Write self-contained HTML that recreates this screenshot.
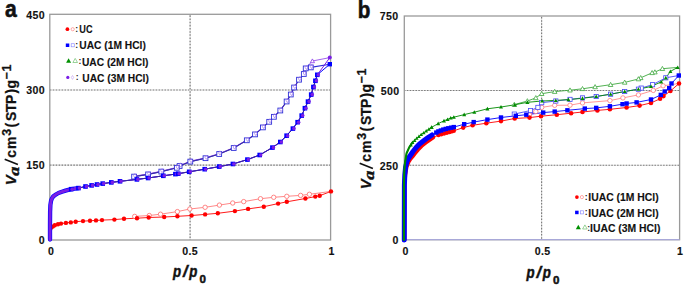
<!DOCTYPE html><html><head><meta charset="utf-8"><style>html,body{margin:0;padding:0;background:#fff;overflow:hidden}svg{display:block}</style></head><body>
<svg width="685" height="285" viewBox="0 0 685 285">
<rect width="685" height="285" fill="#fff"/>
<line x1="49.8" y1="90.0" x2="330.6" y2="90.0" stroke="#e2e2e2" stroke-width="1.1"/>
<line x1="49.8" y1="90.0" x2="330.6" y2="90.0" stroke="#7c7c7c" stroke-width="1.15" stroke-dasharray="1.55,1.39" stroke-dashoffset="0.0"/>
<line x1="49.8" y1="165.1" x2="330.6" y2="165.1" stroke="#e2e2e2" stroke-width="1.1"/>
<line x1="49.8" y1="165.1" x2="330.6" y2="165.1" stroke="#7c7c7c" stroke-width="1.15" stroke-dasharray="1.55,1.39" stroke-dashoffset="0.0"/>
<line x1="190.1" y1="14.3" x2="190.1" y2="240.0" stroke="#e2e2e2" stroke-width="1.1"/>
<line x1="190.1" y1="14.3" x2="190.1" y2="240.0" stroke="#7c7c7c" stroke-width="1.15" stroke-dasharray="1.55,1.61" stroke-dashoffset="2.11"/>
<line x1="404.3" y1="90.5" x2="679.6" y2="90.5" stroke="#e2e2e2" stroke-width="1.1"/>
<line x1="404.3" y1="90.5" x2="679.6" y2="90.5" stroke="#7c7c7c" stroke-width="1.15" stroke-dasharray="1.55,1.33" stroke-dashoffset="0.39"/>
<line x1="404.3" y1="165.2" x2="679.6" y2="165.2" stroke="#e2e2e2" stroke-width="1.1"/>
<line x1="404.3" y1="165.2" x2="679.6" y2="165.2" stroke="#7c7c7c" stroke-width="1.15" stroke-dasharray="1.55,1.33" stroke-dashoffset="0.39"/>
<line x1="541.6" y1="16.0" x2="541.6" y2="239.7" stroke="#e2e2e2" stroke-width="1.1"/>
<line x1="541.6" y1="16.0" x2="541.6" y2="239.7" stroke="#7c7c7c" stroke-width="1.15" stroke-dasharray="1.55,1.55" stroke-dashoffset="2.05"/>
<rect x="49.8" y="14.3" width="280.8" height="225.7" fill="none" stroke="#9a9a9a" stroke-width="1.3"/>
<rect x="404.3" y="16.0" width="275.3" height="223.7" fill="none" stroke="#9a9a9a" stroke-width="1.3"/>
<line x1="404.3" y1="239.7" x2="679.6" y2="239.7" stroke="#a8a8d8" stroke-width="1.3"/>
<polyline points="49.9,239.5 50.1,234.0 50.6,230.0 51.5,228.0 52.7,226.6 54.8,225.3 58.0,224.3 61.0,223.6 65.9,222.9 70.8,222.4 75.7,221.7 83.0,221.1 90.0,220.8 96.0,220.4 102.0,220.1 114.4,219.6 124.0,218.8 137.0,218.2 148.7,217.5 164.2,217.0 177.4,216.3 191.6,215.5 205.1,214.4 217.8,213.3 234.9,211.1 248.1,208.9 263.8,206.7 278.1,203.6 286.8,201.8 305.4,198.5 315.3,196.6 319.7,195.7 331.0,191.4" fill="none" stroke="#ff0000" stroke-width="0.9" stroke-opacity="1" stroke-linejoin="round"/>
<polyline points="331.0,191.4 309.4,194.3 300.6,195.4 286.8,196.3 273.7,197.3 260.5,198.7 243.7,201.6 232.7,203.0 219.4,205.1 205.1,207.3 189.8,209.0 177.4,211.6 160.5,214.2 149.3,215.5 134.7,216.4" fill="none" stroke="#ff6a6a" stroke-width="0.8" stroke-opacity="1" stroke-linejoin="round"/>
<polyline points="49.9,239.5 50.1,234.0 50.6,230.0 51.5,228.0 52.7,226.6 54.8,225.3" fill="none" stroke="#ff0000" stroke-width="3.0" stroke-opacity="1" stroke-linejoin="round" stroke-linecap="round"/>
<circle cx="309.4" cy="194.3" r="2.2" fill="#fff" stroke="#ff6a6a" stroke-width="0.8"/>
<circle cx="300.6" cy="195.4" r="2.2" fill="#fff" stroke="#ff6a6a" stroke-width="0.8"/>
<circle cx="286.8" cy="196.3" r="2.2" fill="#fff" stroke="#ff6a6a" stroke-width="0.8"/>
<circle cx="273.7" cy="197.3" r="2.2" fill="#fff" stroke="#ff6a6a" stroke-width="0.8"/>
<circle cx="260.5" cy="198.7" r="2.2" fill="#fff" stroke="#ff6a6a" stroke-width="0.8"/>
<circle cx="243.7" cy="201.6" r="2.2" fill="#fff" stroke="#ff6a6a" stroke-width="0.8"/>
<circle cx="232.7" cy="203.0" r="2.2" fill="#fff" stroke="#ff6a6a" stroke-width="0.8"/>
<circle cx="219.4" cy="205.1" r="2.2" fill="#fff" stroke="#ff6a6a" stroke-width="0.8"/>
<circle cx="205.1" cy="207.3" r="2.2" fill="#fff" stroke="#ff6a6a" stroke-width="0.8"/>
<circle cx="189.8" cy="209.0" r="2.2" fill="#fff" stroke="#ff6a6a" stroke-width="0.8"/>
<circle cx="177.4" cy="211.6" r="2.2" fill="#fff" stroke="#ff6a6a" stroke-width="0.8"/>
<circle cx="160.5" cy="214.2" r="2.2" fill="#fff" stroke="#ff6a6a" stroke-width="0.8"/>
<circle cx="149.3" cy="215.5" r="2.2" fill="#fff" stroke="#ff6a6a" stroke-width="0.8"/>
<circle cx="134.7" cy="216.4" r="2.2" fill="#fff" stroke="#ff6a6a" stroke-width="0.8"/>
<circle cx="52.7" cy="226.6" r="2.2" fill="#ff0000"/>
<circle cx="54.8" cy="225.3" r="2.2" fill="#ff0000"/>
<circle cx="58.0" cy="224.3" r="2.2" fill="#ff0000"/>
<circle cx="61.0" cy="223.6" r="2.2" fill="#ff0000"/>
<circle cx="65.9" cy="222.9" r="2.2" fill="#ff0000"/>
<circle cx="70.8" cy="222.4" r="2.2" fill="#ff0000"/>
<circle cx="75.7" cy="221.7" r="2.2" fill="#ff0000"/>
<circle cx="83.0" cy="221.1" r="2.2" fill="#ff0000"/>
<circle cx="90.0" cy="220.8" r="2.2" fill="#ff0000"/>
<circle cx="96.0" cy="220.4" r="2.2" fill="#ff0000"/>
<circle cx="102.0" cy="220.1" r="2.2" fill="#ff0000"/>
<circle cx="114.4" cy="219.6" r="2.2" fill="#ff0000"/>
<circle cx="124.0" cy="218.8" r="2.2" fill="#ff0000"/>
<circle cx="137.0" cy="218.2" r="2.2" fill="#ff0000"/>
<circle cx="148.7" cy="217.5" r="2.2" fill="#ff0000"/>
<circle cx="164.2" cy="217.0" r="2.2" fill="#ff0000"/>
<circle cx="177.4" cy="216.3" r="2.2" fill="#ff0000"/>
<circle cx="191.6" cy="215.5" r="2.2" fill="#ff0000"/>
<circle cx="205.1" cy="214.4" r="2.2" fill="#ff0000"/>
<circle cx="217.8" cy="213.3" r="2.2" fill="#ff0000"/>
<circle cx="234.9" cy="211.1" r="2.2" fill="#ff0000"/>
<circle cx="248.1" cy="208.9" r="2.2" fill="#ff0000"/>
<circle cx="263.8" cy="206.7" r="2.2" fill="#ff0000"/>
<circle cx="278.1" cy="203.6" r="2.2" fill="#ff0000"/>
<circle cx="286.8" cy="201.8" r="2.2" fill="#ff0000"/>
<circle cx="305.4" cy="198.5" r="2.2" fill="#ff0000"/>
<circle cx="315.3" cy="196.6" r="2.2" fill="#ff0000"/>
<circle cx="319.7" cy="195.7" r="2.2" fill="#ff0000"/>
<circle cx="331.0" cy="191.4" r="2.2" fill="#ff0000"/>
<polyline points="329.8,64.2 310.8,67.4 305.7,68.4 303.8,74.0 299.0,79.7 294.1,87.5 290.8,94.5 286.6,101.5 280.3,110.5 273.9,116.8 269.2,121.8 262.9,127.4 255.0,134.4 246.8,140.3 233.7,148.0 219.2,154.0 205.5,158.2 190.3,161.6 179.6,166.0 176.8,167.8 161.3,171.6 148.1,174.4 134.1,176.6" fill="none" stroke="#2e2ed8" stroke-width="1.1" stroke-opacity="1" stroke-linejoin="round"/>
<polyline points="329.8,57.6 312.4,61.0 306.0,67.9 304.1,73.5 299.3,79.2 294.4,87.0 291.1,94.0 286.9,101.0 280.6,110.0 274.2,116.3 269.5,121.3 263.2,126.9 255.3,133.9 247.1,139.8 234.0,147.5 219.5,153.5 205.8,157.7 190.6,161.1 179.9,165.5 177.1,167.3 161.6,171.1 148.4,173.9 134.4,176.1" fill="none" stroke="#8a3ae8" stroke-width="0.8" stroke-opacity="1" stroke-linejoin="round"/>
<polyline points="310.8,67.4 305.7,68.4 303.8,74.0 299.0,79.7 294.1,87.5 290.8,94.5 286.6,101.5 280.3,110.5 273.9,116.8 269.2,121.8 262.9,127.4 255.0,134.4 246.8,140.3 233.7,148.0 219.2,154.0 205.5,158.2 190.3,161.6 179.6,166.0 176.8,167.8 161.3,171.6 148.1,174.4 134.1,176.6" fill="none" stroke="#35289a" stroke-width="0.9" stroke-opacity="1" stroke-linejoin="round"/>
<rect x="308.4" y="65.0" width="4.8" height="4.8" fill="#fff" stroke="#2e2ed8" stroke-width="0.9"/>
<polygon points="311.6,64.2 313.0,66.4 311.6,68.6 310.2,66.4" fill="none" stroke="#a078ee" stroke-width="0.7"/>
<rect x="303.3" y="66.0" width="4.8" height="4.8" fill="#fff" stroke="#2e2ed8" stroke-width="0.9"/>
<polygon points="306.5,65.2 307.9,67.4 306.5,69.6 305.1,67.4" fill="none" stroke="#a078ee" stroke-width="0.7"/>
<rect x="301.4" y="71.6" width="4.8" height="4.8" fill="#fff" stroke="#2e2ed8" stroke-width="0.9"/>
<polygon points="304.6,70.8 306.0,73.0 304.6,75.2 303.2,73.0" fill="none" stroke="#a078ee" stroke-width="0.7"/>
<rect x="296.6" y="77.3" width="4.8" height="4.8" fill="#fff" stroke="#2e2ed8" stroke-width="0.9"/>
<polygon points="299.8,76.5 301.2,78.7 299.8,80.9 298.4,78.7" fill="none" stroke="#a078ee" stroke-width="0.7"/>
<rect x="291.7" y="85.1" width="4.8" height="4.8" fill="#fff" stroke="#2e2ed8" stroke-width="0.9"/>
<polygon points="294.9,84.3 296.3,86.5 294.9,88.7 293.5,86.5" fill="none" stroke="#a078ee" stroke-width="0.7"/>
<rect x="288.4" y="92.1" width="4.8" height="4.8" fill="#fff" stroke="#2e2ed8" stroke-width="0.9"/>
<polygon points="291.6,91.3 293.0,93.5 291.6,95.7 290.2,93.5" fill="none" stroke="#a078ee" stroke-width="0.7"/>
<rect x="284.2" y="99.1" width="4.8" height="4.8" fill="#fff" stroke="#2e2ed8" stroke-width="0.9"/>
<polygon points="287.4,98.3 288.8,100.5 287.4,102.7 286.0,100.5" fill="none" stroke="#a078ee" stroke-width="0.7"/>
<rect x="277.9" y="108.1" width="4.8" height="4.8" fill="#fff" stroke="#2e2ed8" stroke-width="0.9"/>
<polygon points="281.1,107.3 282.5,109.5 281.1,111.7 279.7,109.5" fill="none" stroke="#a078ee" stroke-width="0.7"/>
<rect x="271.5" y="114.4" width="4.8" height="4.8" fill="#fff" stroke="#2e2ed8" stroke-width="0.9"/>
<polygon points="274.7,113.6 276.1,115.8 274.7,118.0 273.3,115.8" fill="none" stroke="#a078ee" stroke-width="0.7"/>
<rect x="266.8" y="119.4" width="4.8" height="4.8" fill="#fff" stroke="#2e2ed8" stroke-width="0.9"/>
<polygon points="270.0,118.6 271.4,120.8 270.0,123.0 268.6,120.8" fill="none" stroke="#a078ee" stroke-width="0.7"/>
<rect x="260.5" y="125.0" width="4.8" height="4.8" fill="#fff" stroke="#2e2ed8" stroke-width="0.9"/>
<polygon points="263.7,124.2 265.1,126.4 263.7,128.6 262.3,126.4" fill="none" stroke="#a078ee" stroke-width="0.7"/>
<rect x="252.6" y="132.0" width="4.8" height="4.8" fill="#fff" stroke="#2e2ed8" stroke-width="0.9"/>
<polygon points="255.8,131.2 257.2,133.4 255.8,135.6 254.4,133.4" fill="none" stroke="#a078ee" stroke-width="0.7"/>
<rect x="244.4" y="137.9" width="4.8" height="4.8" fill="#fff" stroke="#2e2ed8" stroke-width="0.9"/>
<polygon points="247.6,137.1 249.0,139.3 247.6,141.5 246.2,139.3" fill="none" stroke="#a078ee" stroke-width="0.7"/>
<rect x="231.3" y="145.6" width="4.8" height="4.8" fill="#fff" stroke="#2e2ed8" stroke-width="0.9"/>
<polygon points="234.5,144.8 235.9,147.0 234.5,149.2 233.1,147.0" fill="none" stroke="#a078ee" stroke-width="0.7"/>
<rect x="216.8" y="151.6" width="4.8" height="4.8" fill="#fff" stroke="#2e2ed8" stroke-width="0.9"/>
<polygon points="220.0,150.8 221.4,153.0 220.0,155.2 218.6,153.0" fill="none" stroke="#a078ee" stroke-width="0.7"/>
<rect x="203.1" y="155.8" width="4.8" height="4.8" fill="#fff" stroke="#2e2ed8" stroke-width="0.9"/>
<polygon points="206.3,155.0 207.7,157.2 206.3,159.4 204.9,157.2" fill="none" stroke="#a078ee" stroke-width="0.7"/>
<rect x="187.9" y="159.2" width="4.8" height="4.8" fill="#fff" stroke="#2e2ed8" stroke-width="0.9"/>
<polygon points="191.1,158.4 192.5,160.6 191.1,162.8 189.7,160.6" fill="none" stroke="#a078ee" stroke-width="0.7"/>
<rect x="177.2" y="163.6" width="4.8" height="4.8" fill="#fff" stroke="#2e2ed8" stroke-width="0.9"/>
<polygon points="180.4,162.8 181.8,165.0 180.4,167.2 179.0,165.0" fill="none" stroke="#a078ee" stroke-width="0.7"/>
<rect x="174.4" y="165.4" width="4.8" height="4.8" fill="#fff" stroke="#2e2ed8" stroke-width="0.9"/>
<polygon points="177.6,164.6 179.0,166.8 177.6,169.0 176.2,166.8" fill="none" stroke="#a078ee" stroke-width="0.7"/>
<rect x="158.9" y="169.2" width="4.8" height="4.8" fill="#fff" stroke="#2e2ed8" stroke-width="0.9"/>
<polygon points="162.1,168.4 163.5,170.6 162.1,172.8 160.7,170.6" fill="none" stroke="#a078ee" stroke-width="0.7"/>
<rect x="145.7" y="172.0" width="4.8" height="4.8" fill="#fff" stroke="#2e2ed8" stroke-width="0.9"/>
<polygon points="148.9,171.2 150.3,173.4 148.9,175.6 147.5,173.4" fill="none" stroke="#a078ee" stroke-width="0.7"/>
<rect x="131.7" y="174.2" width="4.8" height="4.8" fill="#fff" stroke="#2e2ed8" stroke-width="0.9"/>
<polygon points="134.9,173.4 136.3,175.6 134.9,177.8 133.5,175.6" fill="none" stroke="#a078ee" stroke-width="0.7"/>
<polygon points="312.4,58.9 314.5,62.7 310.3,62.7" fill="#fff" stroke="#8a3ae8" stroke-width="0.8"/>
<polyline points="50.0,239.5 50.0,225.0 50.1,212.0 50.4,205.0 51.0,201.0 51.8,198.6 53.2,196.5 55.3,194.8 58.5,193.0 62.0,191.7 65.5,190.6 71.2,189.2 78.4,188.1 85.5,186.5 91.6,185.4 97.0,184.5 102.7,183.6 111.3,182.4 120.0,181.3 136.9,179.4 148.1,178.0 163.3,175.8 175.4,174.1 178.2,173.7 189.2,171.8 204.7,169.2 219.2,166.6 232.9,164.0 247.4,159.6 259.7,155.0 272.4,147.6 280.3,142.0 286.6,135.7 292.9,128.6 297.6,122.2 301.7,115.6 304.9,108.2 308.0,101.6 311.2,94.6 313.4,87.0 315.4,80.8 317.3,74.8 329.8,64.2" fill="none" stroke="#0000ff" stroke-width="1.0" stroke-opacity="1" stroke-linejoin="round"/>
<polyline points="50.0,239.5 50.0,225.0 50.1,212.0 50.4,205.0 51.0,201.0 51.8,198.6 53.2,196.5 55.3,194.8 58.5,193.0 62.0,191.7 65.5,190.6 71.2,189.2 78.4,188.1 85.5,186.5 91.6,185.4 97.0,184.5 102.7,183.6 111.3,182.4 120.0,181.3 136.9,179.4 148.1,178.0 163.3,175.8 175.4,174.1 178.2,173.7 189.2,171.8 204.7,169.2 219.2,166.6 232.9,164.0 247.4,159.6 259.7,155.0 272.4,147.6 280.3,142.0 286.6,135.7 292.9,128.6 297.6,122.2 301.7,115.6 304.9,108.2 308.0,101.6 311.2,94.6 313.4,87.0 315.4,80.8 317.3,74.8 329.8,57.6" fill="none" stroke="#7a1ee6" stroke-width="1.0" stroke-opacity="1" stroke-linejoin="round"/>
<polyline points="78.4,188.1 85.5,186.5 91.6,185.4 97.0,184.5 102.7,183.6 111.3,182.4 120.0,181.3 136.9,179.4 148.1,178.0 163.3,175.8 175.4,174.1 178.2,173.7 189.2,171.8 204.7,169.2 219.2,166.6 232.9,164.0 247.4,159.6 259.7,155.0 272.4,147.6 280.3,142.0 286.6,135.7 292.9,128.6 297.6,122.2 301.7,115.6 304.9,108.2 308.0,101.6 311.2,94.6 313.4,87.0 315.4,80.8 317.3,74.8" fill="none" stroke="#35289a" stroke-width="1.0" stroke-opacity="1" stroke-linejoin="round"/>
<polyline points="50.0,239.5 50.0,225.0 50.1,212.0 50.4,205.0 51.0,201.0 51.8,198.6 53.2,196.5 55.3,194.8 58.5,193.0 62.0,191.7 65.5,190.6 71.2,189.2 78.4,188.1" fill="none" stroke="#0000ff" stroke-width="4.3" stroke-opacity="1" stroke-linejoin="round" stroke-linecap="round"/>
<polyline points="50.0,239.5 50.0,225.0 50.1,212.0 50.4,205.0 51.0,201.0 51.8,198.6 53.2,196.5 55.3,194.8 58.5,193.0 62.0,191.7 65.5,190.6 71.2,189.2 78.4,188.1" fill="none" stroke="#7a1ee6" stroke-width="3.0" stroke-opacity="1" stroke-linejoin="round" stroke-linecap="round"/>
<rect x="68.9" y="186.9" width="4.6" height="4.6" fill="#0000ff"/>
<circle cx="72.2" cy="189.2" r="1.8" fill="#7a1ee6"/>
<rect x="76.1" y="185.8" width="4.6" height="4.6" fill="#0000ff"/>
<circle cx="79.4" cy="188.1" r="1.8" fill="#7a1ee6"/>
<rect x="83.2" y="184.2" width="4.6" height="4.6" fill="#0000ff"/>
<circle cx="86.5" cy="186.5" r="1.8" fill="#7a1ee6"/>
<rect x="89.3" y="183.1" width="4.6" height="4.6" fill="#0000ff"/>
<circle cx="92.6" cy="185.4" r="1.8" fill="#7a1ee6"/>
<rect x="94.7" y="182.2" width="4.6" height="4.6" fill="#0000ff"/>
<circle cx="98.0" cy="184.5" r="1.8" fill="#7a1ee6"/>
<rect x="100.4" y="181.3" width="4.6" height="4.6" fill="#0000ff"/>
<circle cx="103.7" cy="183.6" r="1.8" fill="#7a1ee6"/>
<rect x="109.0" y="180.1" width="4.6" height="4.6" fill="#0000ff"/>
<circle cx="112.3" cy="182.4" r="1.8" fill="#7a1ee6"/>
<rect x="117.7" y="179.0" width="4.6" height="4.6" fill="#0000ff"/>
<circle cx="121.0" cy="181.3" r="1.8" fill="#7a1ee6"/>
<rect x="134.6" y="177.1" width="4.6" height="4.6" fill="#0000ff"/>
<circle cx="137.9" cy="179.4" r="1.8" fill="#7a1ee6"/>
<rect x="145.8" y="175.7" width="4.6" height="4.6" fill="#0000ff"/>
<circle cx="149.1" cy="178.0" r="1.8" fill="#7a1ee6"/>
<rect x="161.0" y="173.5" width="4.6" height="4.6" fill="#0000ff"/>
<circle cx="164.3" cy="175.8" r="1.8" fill="#7a1ee6"/>
<rect x="173.1" y="171.8" width="4.6" height="4.6" fill="#0000ff"/>
<circle cx="176.4" cy="174.1" r="1.8" fill="#7a1ee6"/>
<rect x="175.9" y="171.4" width="4.6" height="4.6" fill="#0000ff"/>
<circle cx="179.2" cy="173.7" r="1.8" fill="#7a1ee6"/>
<rect x="186.9" y="169.5" width="4.6" height="4.6" fill="#0000ff"/>
<circle cx="190.2" cy="171.8" r="1.8" fill="#7a1ee6"/>
<rect x="202.4" y="166.9" width="4.6" height="4.6" fill="#0000ff"/>
<circle cx="205.7" cy="169.2" r="1.8" fill="#7a1ee6"/>
<rect x="216.9" y="164.3" width="4.6" height="4.6" fill="#0000ff"/>
<circle cx="220.2" cy="166.6" r="1.8" fill="#7a1ee6"/>
<rect x="230.6" y="161.7" width="4.6" height="4.6" fill="#0000ff"/>
<circle cx="233.9" cy="164.0" r="1.8" fill="#7a1ee6"/>
<rect x="245.1" y="157.3" width="4.6" height="4.6" fill="#0000ff"/>
<circle cx="248.4" cy="159.6" r="1.8" fill="#7a1ee6"/>
<rect x="257.4" y="152.7" width="4.6" height="4.6" fill="#0000ff"/>
<circle cx="260.7" cy="155.0" r="1.8" fill="#7a1ee6"/>
<rect x="270.1" y="145.3" width="4.6" height="4.6" fill="#0000ff"/>
<circle cx="273.4" cy="147.6" r="1.8" fill="#7a1ee6"/>
<rect x="278.0" y="139.7" width="4.6" height="4.6" fill="#0000ff"/>
<circle cx="281.3" cy="142.0" r="1.8" fill="#7a1ee6"/>
<rect x="284.3" y="133.4" width="4.6" height="4.6" fill="#0000ff"/>
<circle cx="287.6" cy="135.7" r="1.8" fill="#7a1ee6"/>
<rect x="290.6" y="126.3" width="4.6" height="4.6" fill="#0000ff"/>
<circle cx="293.9" cy="128.6" r="1.8" fill="#7a1ee6"/>
<rect x="295.3" y="119.9" width="4.6" height="4.6" fill="#0000ff"/>
<circle cx="298.6" cy="122.2" r="1.8" fill="#7a1ee6"/>
<rect x="299.4" y="113.3" width="4.6" height="4.6" fill="#0000ff"/>
<circle cx="302.7" cy="115.6" r="1.8" fill="#7a1ee6"/>
<rect x="302.6" y="105.9" width="4.6" height="4.6" fill="#0000ff"/>
<circle cx="305.9" cy="108.2" r="1.8" fill="#7a1ee6"/>
<rect x="305.7" y="99.3" width="4.6" height="4.6" fill="#0000ff"/>
<circle cx="309.0" cy="101.6" r="1.8" fill="#7a1ee6"/>
<rect x="308.9" y="92.3" width="4.6" height="4.6" fill="#0000ff"/>
<circle cx="312.2" cy="94.6" r="1.8" fill="#7a1ee6"/>
<rect x="311.1" y="84.7" width="4.6" height="4.6" fill="#0000ff"/>
<circle cx="314.4" cy="87.0" r="1.8" fill="#7a1ee6"/>
<rect x="313.1" y="78.5" width="4.6" height="4.6" fill="#0000ff"/>
<circle cx="316.4" cy="80.8" r="1.8" fill="#7a1ee6"/>
<rect x="315.0" y="72.5" width="4.6" height="4.6" fill="#0000ff"/>
<circle cx="318.3" cy="74.8" r="1.8" fill="#7a1ee6"/>
<rect x="327.6" y="62.0" width="4.4" height="4.4" fill="#0000ff"/>
<circle cx="329.8" cy="57.6" r="2.0" fill="#7a1ee6"/>
<polyline points="679.0,83.5 663.1,85.8 653.3,90.4 638.4,94.9 622.9,97.9 609.9,100.6 582.5,102.9 570.0,105.2 554.7,105.3 541.7,107.4 535.8,111.6 529.5,115.0" fill="none" stroke="#ff6a6a" stroke-width="0.7" stroke-opacity="1" stroke-linejoin="round"/>
<polyline points="678.8,75.5 665.8,77.8 652.6,84.7 641.2,88.1 638.4,89.2 624.7,91.5 610.6,94.2 596.2,96.5 582.5,97.9 570.0,99.4 555.8,101.0 541.7,102.7 537.9,107.4 530.5,110.5 514.3,114.1" fill="none" stroke="#4848f8" stroke-width="0.9" stroke-opacity="1" stroke-linejoin="round"/>
<polyline points="677.7,67.4 662.4,68.7 654.9,72.1 652.1,72.8 640.7,77.8 638.4,79.0 624.7,82.4 610.6,84.7 595.1,86.9 582.5,88.8 570.0,90.2 554.7,91.6 541.7,93.7 535.8,97.9 527.4,101.0 514.3,104.6" fill="none" stroke="#40a840" stroke-width="0.9" stroke-opacity="1" stroke-linejoin="round"/>
<polyline points="404.4,240.0 404.5,185.0 405.2,175.0 406.5,167.0 408.5,162.0 410.4,159.0 412.3,156.8 415.0,153.2 418.0,149.6 421.5,146.0 426.0,142.5 430.0,139.6 433.3,137.3 438.4,135.1 444.0,133.5 449.5,132.0 453.8,130.8 463.2,127.6 472.6,125.3 486.3,123.2 501.0,121.1 514.7,118.5 529.5,117.6 541.0,116.2 556.8,114.7 571.1,113.2 582.5,112.0 597.4,110.4 609.9,109.3 626.6,107.5 639.6,105.6 651.0,102.9 660.1,98.8 663.5,96.1 670.4,91.0 679.0,83.5" fill="none" stroke="#ff0000" stroke-width="0.9" stroke-opacity="1" stroke-linejoin="round"/>
<polyline points="404.3,240.0 404.4,185.0 404.8,175.0 405.6,167.0 407.0,161.5 408.6,158.0 410.3,155.5 413.0,151.5 415.9,147.8 419.5,144.0 424.0,140.5 428.0,137.6 432.0,135.0 438.4,131.4 443.3,129.6 448.3,128.3 453.8,127.1 464.2,124.2 473.7,122.1 487.4,119.6 501.0,117.5 515.8,115.8 526.3,114.7 543.2,112.6 554.7,111.6 567.4,110.3 584.8,108.6 596.2,107.9 609.9,106.3 622.5,104.2 626.6,103.5 636.6,102.4 651.0,99.5 660.8,94.9 664.7,91.5 669.2,88.1 671.5,83.5 678.8,75.5" fill="none" stroke="#0000ff" stroke-width="0.9" stroke-opacity="1" stroke-linejoin="round"/>
<polyline points="403.9,240.0 403.9,185.0 404.2,172.0 405.0,162.5 406.5,153.5 409.2,147.3 412.5,142.5 416.7,138.3 421.2,134.6 426.2,131.0 431.6,127.3 438.2,123.6 444.0,120.8 447.6,119.4 450.7,118.0 453.8,117.2 464.2,114.6 474.3,112.2 487.4,108.8 501.0,107.0 514.7,104.8 527.4,102.3 542.1,101.0 555.8,100.4 568.4,99.6 582.5,98.3 596.2,96.5 610.6,94.2 624.7,91.5 638.4,89.2 651.0,86.5 661.2,81.9 665.8,77.8 670.4,71.4 677.7,67.4" fill="none" stroke="#008a00" stroke-width="0.9" stroke-opacity="1" stroke-linejoin="round"/>
<polyline points="404.4,240.0 404.5,185.0 405.2,175.0 406.5,167.0 408.5,162.0 410.4,159.0 412.3,156.8 415.0,153.2 418.0,149.6 421.5,146.0 426.0,142.5 430.0,139.6 433.3,137.3" fill="none" stroke="#ff0000" stroke-width="4.0" stroke-opacity="1" stroke-linejoin="round" stroke-linecap="round"/>
<circle cx="438.4" cy="135.1" r="2.2" fill="#ff0000"/>
<circle cx="441.2" cy="134.3" r="2.2" fill="#ff0000"/>
<circle cx="444.0" cy="133.5" r="2.2" fill="#ff0000"/>
<circle cx="446.8" cy="132.8" r="2.2" fill="#ff0000"/>
<circle cx="449.5" cy="132.0" r="2.2" fill="#ff0000"/>
<circle cx="451.6" cy="131.4" r="2.2" fill="#ff0000"/>
<circle cx="453.8" cy="130.8" r="2.2" fill="#ff0000"/>
<polyline points="404.3,240.0 404.4,185.0 404.8,175.0 405.6,167.0 407.0,161.5 408.6,158.0 410.3,155.5 413.0,151.5 415.9,147.8 419.5,144.0 424.0,140.5 428.0,137.6 432.0,135.0" fill="none" stroke="#0000ff" stroke-width="5.0" stroke-opacity="1" stroke-linejoin="round" stroke-linecap="round"/>
<rect x="434.1" y="130.4" width="4.4" height="4.4" fill="#0000ff"/>
<rect x="436.2" y="129.2" width="4.4" height="4.4" fill="#0000ff"/>
<rect x="438.7" y="128.3" width="4.4" height="4.4" fill="#0000ff"/>
<rect x="441.1" y="127.4" width="4.4" height="4.4" fill="#0000ff"/>
<rect x="443.6" y="126.7" width="4.4" height="4.4" fill="#0000ff"/>
<rect x="446.1" y="126.1" width="4.4" height="4.4" fill="#0000ff"/>
<rect x="448.9" y="125.5" width="4.4" height="4.4" fill="#0000ff"/>
<rect x="451.6" y="124.9" width="4.4" height="4.4" fill="#0000ff"/>
<polyline points="403.9,240.0 403.9,185.0 404.2,172.0 405.0,162.5 406.5,153.5 409.2,147.3 412.5,142.5" fill="none" stroke="#008a00" stroke-width="2.1" stroke-opacity="1" stroke-linejoin="round" stroke-linecap="round"/>
<polygon points="410.9,143.0 412.8,146.4 409.0,146.4" fill="#008a00"/>
<polygon points="412.5,140.6 414.4,144.0 410.6,144.0" fill="#008a00"/>
<polygon points="414.6,138.5 416.5,141.9 412.7,141.9" fill="#008a00"/>
<polygon points="416.7,136.4 418.6,139.8 414.8,139.8" fill="#008a00"/>
<polygon points="418.9,134.5 420.8,138.0 417.1,138.0" fill="#008a00"/>
<polygon points="421.2,132.7 423.1,136.1 419.3,136.1" fill="#008a00"/>
<polygon points="423.7,130.9 425.6,134.3 421.8,134.3" fill="#008a00"/>
<polygon points="426.2,129.1 428.1,132.5 424.3,132.5" fill="#008a00"/>
<polygon points="428.9,127.2 430.8,130.7 427.0,130.7" fill="#008a00"/>
<polygon points="431.6,125.4 433.5,128.8 429.7,128.8" fill="#008a00"/>
<circle cx="663.1" cy="85.8" r="2.2" fill="#fff" stroke="#ff6a6a" stroke-width="0.7"/>
<circle cx="653.3" cy="90.4" r="2.2" fill="#fff" stroke="#ff6a6a" stroke-width="0.7"/>
<circle cx="638.4" cy="94.9" r="2.2" fill="#fff" stroke="#ff6a6a" stroke-width="0.7"/>
<circle cx="622.9" cy="97.9" r="2.2" fill="#fff" stroke="#ff6a6a" stroke-width="0.7"/>
<circle cx="609.9" cy="100.6" r="2.2" fill="#fff" stroke="#ff6a6a" stroke-width="0.7"/>
<circle cx="582.5" cy="102.9" r="2.2" fill="#fff" stroke="#ff6a6a" stroke-width="0.7"/>
<circle cx="570.0" cy="105.2" r="2.2" fill="#fff" stroke="#ff6a6a" stroke-width="0.7"/>
<circle cx="554.7" cy="105.3" r="2.2" fill="#fff" stroke="#ff6a6a" stroke-width="0.7"/>
<circle cx="541.7" cy="107.4" r="2.2" fill="#fff" stroke="#ff6a6a" stroke-width="0.7"/>
<circle cx="535.8" cy="111.6" r="2.2" fill="#fff" stroke="#ff6a6a" stroke-width="0.7"/>
<circle cx="529.5" cy="115.0" r="2.2" fill="#fff" stroke="#ff6a6a" stroke-width="0.7"/>
<rect x="663.7" y="75.7" width="4.2" height="4.2" fill="#fff" stroke="#4848f8" stroke-width="0.8"/>
<rect x="650.5" y="82.6" width="4.2" height="4.2" fill="#fff" stroke="#4848f8" stroke-width="0.8"/>
<rect x="639.1" y="86.0" width="4.2" height="4.2" fill="#fff" stroke="#4848f8" stroke-width="0.8"/>
<rect x="636.3" y="87.1" width="4.2" height="4.2" fill="#fff" stroke="#4848f8" stroke-width="0.8"/>
<rect x="622.6" y="89.4" width="4.2" height="4.2" fill="#fff" stroke="#4848f8" stroke-width="0.8"/>
<rect x="608.5" y="92.1" width="4.2" height="4.2" fill="#fff" stroke="#4848f8" stroke-width="0.8"/>
<rect x="594.1" y="94.4" width="4.2" height="4.2" fill="#fff" stroke="#4848f8" stroke-width="0.8"/>
<rect x="580.4" y="95.8" width="4.2" height="4.2" fill="#fff" stroke="#4848f8" stroke-width="0.8"/>
<rect x="567.9" y="97.3" width="4.2" height="4.2" fill="#fff" stroke="#4848f8" stroke-width="0.8"/>
<rect x="553.7" y="98.9" width="4.2" height="4.2" fill="#fff" stroke="#4848f8" stroke-width="0.8"/>
<rect x="539.6" y="100.6" width="4.2" height="4.2" fill="#fff" stroke="#4848f8" stroke-width="0.8"/>
<rect x="535.8" y="105.3" width="4.2" height="4.2" fill="#fff" stroke="#4848f8" stroke-width="0.8"/>
<rect x="528.4" y="108.4" width="4.2" height="4.2" fill="#fff" stroke="#4848f8" stroke-width="0.8"/>
<rect x="512.2" y="112.0" width="4.2" height="4.2" fill="#fff" stroke="#4848f8" stroke-width="0.8"/>
<polygon points="662.4,66.4 664.7,70.5 660.1,70.5" fill="#fff" stroke="#40a840" stroke-width="0.8"/>
<polygon points="654.9,69.8 657.2,73.9 652.6,73.9" fill="#fff" stroke="#40a840" stroke-width="0.8"/>
<polygon points="652.1,70.5 654.4,74.6 649.8,74.6" fill="#fff" stroke="#40a840" stroke-width="0.8"/>
<polygon points="640.7,75.5 643.0,79.6 638.4,79.6" fill="#fff" stroke="#40a840" stroke-width="0.8"/>
<polygon points="638.4,76.7 640.7,80.8 636.1,80.8" fill="#fff" stroke="#40a840" stroke-width="0.8"/>
<polygon points="624.7,80.1 627.0,84.2 622.4,84.2" fill="#fff" stroke="#40a840" stroke-width="0.8"/>
<polygon points="610.6,82.4 612.9,86.5 608.3,86.5" fill="#fff" stroke="#40a840" stroke-width="0.8"/>
<polygon points="595.1,84.6 597.4,88.7 592.8,88.7" fill="#fff" stroke="#40a840" stroke-width="0.8"/>
<polygon points="582.5,86.5 584.8,90.6 580.2,90.6" fill="#fff" stroke="#40a840" stroke-width="0.8"/>
<polygon points="570.0,87.9 572.3,92.0 567.7,92.0" fill="#fff" stroke="#40a840" stroke-width="0.8"/>
<polygon points="554.7,89.3 557.0,93.4 552.4,93.4" fill="#fff" stroke="#40a840" stroke-width="0.8"/>
<polygon points="541.7,91.4 544.0,95.5 539.4,95.5" fill="#fff" stroke="#40a840" stroke-width="0.8"/>
<polygon points="535.8,95.6 538.1,99.7 533.5,99.7" fill="#fff" stroke="#40a840" stroke-width="0.8"/>
<polygon points="527.4,98.7 529.7,102.8 525.1,102.8" fill="#fff" stroke="#40a840" stroke-width="0.8"/>
<polygon points="514.3,102.3 516.6,106.4 512.0,106.4" fill="#fff" stroke="#40a840" stroke-width="0.8"/>
<circle cx="463.2" cy="127.6" r="2.3" fill="#ff0000"/>
<circle cx="472.6" cy="125.3" r="2.3" fill="#ff0000"/>
<circle cx="486.3" cy="123.2" r="2.3" fill="#ff0000"/>
<circle cx="501.0" cy="121.1" r="2.3" fill="#ff0000"/>
<circle cx="514.7" cy="118.5" r="2.3" fill="#ff0000"/>
<circle cx="529.5" cy="117.6" r="2.3" fill="#ff0000"/>
<circle cx="541.0" cy="116.2" r="2.3" fill="#ff0000"/>
<circle cx="556.8" cy="114.7" r="2.3" fill="#ff0000"/>
<circle cx="571.1" cy="113.2" r="2.3" fill="#ff0000"/>
<circle cx="582.5" cy="112.0" r="2.3" fill="#ff0000"/>
<circle cx="597.4" cy="110.4" r="2.3" fill="#ff0000"/>
<circle cx="609.9" cy="109.3" r="2.3" fill="#ff0000"/>
<circle cx="626.6" cy="107.5" r="2.3" fill="#ff0000"/>
<circle cx="639.6" cy="105.6" r="2.3" fill="#ff0000"/>
<circle cx="651.0" cy="102.9" r="2.3" fill="#ff0000"/>
<circle cx="660.1" cy="98.8" r="2.3" fill="#ff0000"/>
<circle cx="663.5" cy="96.1" r="2.3" fill="#ff0000"/>
<circle cx="670.4" cy="91.0" r="2.3" fill="#ff0000"/>
<circle cx="679.0" cy="83.5" r="2.3" fill="#ff0000"/>
<rect x="462.0" y="122.0" width="4.4" height="4.4" fill="#0000ff"/>
<rect x="471.5" y="119.9" width="4.4" height="4.4" fill="#0000ff"/>
<rect x="485.2" y="117.4" width="4.4" height="4.4" fill="#0000ff"/>
<rect x="498.8" y="115.3" width="4.4" height="4.4" fill="#0000ff"/>
<rect x="513.6" y="113.6" width="4.4" height="4.4" fill="#0000ff"/>
<rect x="524.1" y="112.5" width="4.4" height="4.4" fill="#0000ff"/>
<rect x="541.0" y="110.4" width="4.4" height="4.4" fill="#0000ff"/>
<rect x="552.5" y="109.4" width="4.4" height="4.4" fill="#0000ff"/>
<rect x="565.2" y="108.1" width="4.4" height="4.4" fill="#0000ff"/>
<rect x="582.6" y="106.4" width="4.4" height="4.4" fill="#0000ff"/>
<rect x="594.0" y="105.7" width="4.4" height="4.4" fill="#0000ff"/>
<rect x="607.7" y="104.1" width="4.4" height="4.4" fill="#0000ff"/>
<rect x="620.3" y="102.0" width="4.4" height="4.4" fill="#0000ff"/>
<rect x="624.4" y="101.3" width="4.4" height="4.4" fill="#0000ff"/>
<rect x="634.4" y="100.2" width="4.4" height="4.4" fill="#0000ff"/>
<rect x="648.8" y="97.3" width="4.4" height="4.4" fill="#0000ff"/>
<rect x="658.6" y="92.7" width="4.4" height="4.4" fill="#0000ff"/>
<rect x="662.5" y="89.3" width="4.4" height="4.4" fill="#0000ff"/>
<rect x="667.0" y="85.9" width="4.4" height="4.4" fill="#0000ff"/>
<rect x="669.3" y="81.3" width="4.4" height="4.4" fill="#0000ff"/>
<rect x="676.6" y="73.3" width="4.4" height="4.4" fill="#0000ff"/>
<polygon points="431.6,125.3 433.6,128.9 429.6,128.9" fill="#008a00"/>
<polygon points="438.2,121.6 440.2,125.2 436.2,125.2" fill="#008a00"/>
<polygon points="444.0,118.8 446.0,122.4 442.0,122.4" fill="#008a00"/>
<polygon points="447.6,117.4 449.6,121.0 445.6,121.0" fill="#008a00"/>
<polygon points="450.7,116.0 452.7,119.6 448.7,119.6" fill="#008a00"/>
<polygon points="453.8,115.2 455.8,118.8 451.8,118.8" fill="#008a00"/>
<polygon points="464.2,112.6 466.2,116.2 462.2,116.2" fill="#008a00"/>
<polygon points="474.3,110.2 476.3,113.8 472.3,113.8" fill="#008a00"/>
<polygon points="487.4,106.8 489.4,110.4 485.4,110.4" fill="#008a00"/>
<polygon points="501.0,105.0 503.0,108.6 499.0,108.6" fill="#008a00"/>
<polygon points="514.7,102.8 516.7,106.4 512.7,106.4" fill="#008a00"/>
<polygon points="527.4,100.3 529.4,103.9 525.4,103.9" fill="#008a00"/>
<polygon points="542.1,99.0 544.1,102.6 540.1,102.6" fill="#008a00"/>
<polygon points="555.8,98.4 557.8,102.0 553.8,102.0" fill="#008a00"/>
<polygon points="568.4,97.6 570.4,101.2 566.4,101.2" fill="#008a00"/>
<polygon points="582.5,96.3 584.5,99.9 580.5,99.9" fill="#008a00"/>
<polygon points="596.2,94.5 598.2,98.1 594.2,98.1" fill="#008a00"/>
<polygon points="610.6,92.2 612.6,95.8 608.6,95.8" fill="#008a00"/>
<polygon points="624.7,89.5 626.7,93.1 622.7,93.1" fill="#008a00"/>
<polygon points="638.4,87.2 640.4,90.8 636.4,90.8" fill="#008a00"/>
<polygon points="651.0,84.5 653.0,88.1 649.0,88.1" fill="#008a00"/>
<polygon points="661.2,79.9 663.2,83.5 659.2,83.5" fill="#008a00"/>
<polygon points="665.8,75.8 667.8,79.4 663.8,79.4" fill="#008a00"/>
<polygon points="670.4,69.4 672.4,73.0 668.4,73.0" fill="#008a00"/>
<polygon points="677.7,65.4 679.7,69.0 675.7,69.0" fill="#008a00"/>
<text transform="translate(5.0,17.2) scale(0.88,1)" x="0" y="0" font-family="Liberation Sans, sans-serif" font-weight="bold" fill="#111" stroke="#111" stroke-width="0.6" font-size="24">a</text>
<text transform="translate(357.8,17.7) scale(0.86,1)" x="0" y="0" font-family="Liberation Sans, sans-serif" font-weight="bold" fill="#111" stroke="#111" stroke-width="0.6" font-size="24">b</text>
<text x="44.9" y="18.7" font-family="Liberation Sans, sans-serif" font-weight="bold" fill="#111" stroke="#111" stroke-width="0.12" letter-spacing="0.35" font-size="10.6" text-anchor="end">450</text>
<text x="44.9" y="94.2" font-family="Liberation Sans, sans-serif" font-weight="bold" fill="#111" stroke="#111" stroke-width="0.12" letter-spacing="0.35" font-size="10.6" text-anchor="end">300</text>
<text x="44.9" y="169.3" font-family="Liberation Sans, sans-serif" font-weight="bold" fill="#111" stroke="#111" stroke-width="0.12" letter-spacing="0.35" font-size="10.6" text-anchor="end">150</text>
<text x="44.9" y="244.4" font-family="Liberation Sans, sans-serif" font-weight="bold" fill="#111" stroke="#111" stroke-width="0.12" letter-spacing="0.35" font-size="10.6" text-anchor="end">0</text>
<text x="398.5" y="20.2" font-family="Liberation Sans, sans-serif" font-weight="bold" fill="#111" stroke="#111" stroke-width="0.12" letter-spacing="0.35" font-size="10.6" text-anchor="end">750</text>
<text x="399.4" y="95.0" font-family="Liberation Sans, sans-serif" font-weight="bold" fill="#111" stroke="#111" stroke-width="0.12" letter-spacing="0.35" font-size="10.6" text-anchor="end">500</text>
<text x="398.6" y="169.6" font-family="Liberation Sans, sans-serif" font-weight="bold" fill="#111" stroke="#111" stroke-width="0.12" letter-spacing="0.35" font-size="10.6" text-anchor="end">250</text>
<text x="398.8" y="244.1" font-family="Liberation Sans, sans-serif" font-weight="bold" fill="#111" stroke="#111" stroke-width="0.12" letter-spacing="0.35" font-size="10.6" text-anchor="end">0</text>
<text x="51.2" y="255" font-family="Liberation Sans, sans-serif" font-weight="bold" fill="#111" stroke="#111" stroke-width="0.12" letter-spacing="0.35" font-size="10.6" text-anchor="middle">0</text>
<text x="190.2" y="255" font-family="Liberation Sans, sans-serif" font-weight="bold" fill="#111" stroke="#111" stroke-width="0.12" letter-spacing="0.35" font-size="10.6" text-anchor="middle">0.5</text>
<text x="331.6" y="255" font-family="Liberation Sans, sans-serif" font-weight="bold" fill="#111" stroke="#111" stroke-width="0.12" letter-spacing="0.35" font-size="10.6" text-anchor="middle">1</text>
<text x="405.5" y="255" font-family="Liberation Sans, sans-serif" font-weight="bold" fill="#111" stroke="#111" stroke-width="0.12" letter-spacing="0.35" font-size="10.6" text-anchor="middle">0</text>
<text x="542.7" y="255" font-family="Liberation Sans, sans-serif" font-weight="bold" fill="#111" stroke="#111" stroke-width="0.12" letter-spacing="0.35" font-size="10.6" text-anchor="middle">0.5</text>
<text x="680.2" y="255" font-family="Liberation Sans, sans-serif" font-weight="bold" fill="#111" stroke="#111" stroke-width="0.12" letter-spacing="0.35" font-size="10.6" text-anchor="middle">1</text>
<g transform="translate(0,0) rotate(-90)">
<text x="-185.15" y="16.20" font-family="Liberation Sans, sans-serif" font-weight="bold" fill="#111" stroke="#111" stroke-width="0.25" font-size="15" font-style="italic">V</text>
<text x="-157.66" y="16.00" font-family="Liberation Sans, sans-serif" font-weight="bold" fill="#111" stroke="#111" stroke-width="0.25" font-size="14">c</text>
<text x="-148.95" y="16.00" font-family="Liberation Sans, sans-serif" font-weight="bold" fill="#111" stroke="#111" stroke-width="0.25" font-size="14">m</text>
<text x="-135.77" y="11.20" font-family="Liberation Sans, sans-serif" font-weight="bold" fill="#111" stroke="#111" stroke-width="0.25" font-size="12.4">3</text>
<text x="-127.47" y="16.00" font-family="Liberation Sans, sans-serif" font-weight="bold" fill="#111" stroke="#111" stroke-width="0.25" font-size="14">(</text>
<text x="-120.90" y="16.00" font-family="Liberation Sans, sans-serif" font-weight="bold" fill="#111" stroke="#111" stroke-width="0.25" font-size="14">S</text>
<text x="-112.18" y="16.00" font-family="Liberation Sans, sans-serif" font-weight="bold" fill="#111" stroke="#111" stroke-width="0.25" font-size="14">T</text>
<text x="-103.90" y="16.00" font-family="Liberation Sans, sans-serif" font-weight="bold" fill="#111" stroke="#111" stroke-width="0.25" font-size="14">P</text>
<text x="-93.59" y="16.00" font-family="Liberation Sans, sans-serif" font-weight="bold" fill="#111" stroke="#111" stroke-width="0.25" font-size="14">)</text>
<text x="-88.59" y="16.00" font-family="Liberation Sans, sans-serif" font-weight="bold" fill="#111" stroke="#111" stroke-width="0.25" font-size="14">g</text>
<text x="-79.42" y="10.70" font-family="Liberation Sans, sans-serif" font-weight="bold" fill="#111" stroke="#111" stroke-width="0.25" font-size="12.4">−</text>
<text x="-71.57" y="10.70" font-family="Liberation Sans, sans-serif" font-weight="bold" fill="#111" stroke="#111" stroke-width="0.25" font-size="12.4">1</text>
<text transform="translate(-171.20,19.4) scale(1.22,1)" x="-3.66" y="0" font-family="Liberation Serif, serif" font-weight="bold" font-style="italic" fill="#111" stroke="#111" stroke-width="0.45" font-size="15">a</text>
<line x1="-159.2" y1="4.7" x2="-164.5" y2="17.9" stroke="#111" stroke-width="1.7" stroke-linecap="butt"/>
</g>
<g transform="translate(355,4) rotate(-90)">
<text x="-185.15" y="16.20" font-family="Liberation Sans, sans-serif" font-weight="bold" fill="#111" stroke="#111" stroke-width="0.25" font-size="15" font-style="italic">V</text>
<text x="-157.66" y="16.00" font-family="Liberation Sans, sans-serif" font-weight="bold" fill="#111" stroke="#111" stroke-width="0.25" font-size="14">c</text>
<text x="-148.95" y="16.00" font-family="Liberation Sans, sans-serif" font-weight="bold" fill="#111" stroke="#111" stroke-width="0.25" font-size="14">m</text>
<text x="-135.77" y="11.20" font-family="Liberation Sans, sans-serif" font-weight="bold" fill="#111" stroke="#111" stroke-width="0.25" font-size="12.4">3</text>
<text x="-127.47" y="16.00" font-family="Liberation Sans, sans-serif" font-weight="bold" fill="#111" stroke="#111" stroke-width="0.25" font-size="14">(</text>
<text x="-120.90" y="16.00" font-family="Liberation Sans, sans-serif" font-weight="bold" fill="#111" stroke="#111" stroke-width="0.25" font-size="14">S</text>
<text x="-112.18" y="16.00" font-family="Liberation Sans, sans-serif" font-weight="bold" fill="#111" stroke="#111" stroke-width="0.25" font-size="14">T</text>
<text x="-103.90" y="16.00" font-family="Liberation Sans, sans-serif" font-weight="bold" fill="#111" stroke="#111" stroke-width="0.25" font-size="14">P</text>
<text x="-93.59" y="16.00" font-family="Liberation Sans, sans-serif" font-weight="bold" fill="#111" stroke="#111" stroke-width="0.25" font-size="14">)</text>
<text x="-88.59" y="16.00" font-family="Liberation Sans, sans-serif" font-weight="bold" fill="#111" stroke="#111" stroke-width="0.25" font-size="14">g</text>
<text x="-79.42" y="10.70" font-family="Liberation Sans, sans-serif" font-weight="bold" fill="#111" stroke="#111" stroke-width="0.25" font-size="12.4">−</text>
<text x="-71.57" y="10.70" font-family="Liberation Sans, sans-serif" font-weight="bold" fill="#111" stroke="#111" stroke-width="0.25" font-size="12.4">1</text>
<text transform="translate(-171.20,19.4) scale(1.22,1)" x="-3.66" y="0" font-family="Liberation Serif, serif" font-weight="bold" font-style="italic" fill="#111" stroke="#111" stroke-width="0.45" font-size="15">a</text>
<line x1="-159.2" y1="4.7" x2="-164.5" y2="17.9" stroke="#111" stroke-width="1.7" stroke-linecap="butt"/>
</g>
<text transform="translate(176.60,276.70) scale(0.84,1)" x="-4.40" y="0" font-family="Liberation Sans, sans-serif" font-weight="bold" fill="#111" stroke="#111" stroke-width="0.5" font-size="15.8" font-style="italic">p</text>
<text transform="translate(185.40,277.00) scale(1.0,1)" x="-2.29" y="0" font-family="Liberation Sans, sans-serif" font-weight="bold" fill="#111" stroke="#111" stroke-width="0.5" font-size="16.5" font-style="italic">/</text>
<text transform="translate(192.90,276.70) scale(0.84,1)" x="-4.40" y="0" font-family="Liberation Sans, sans-serif" font-weight="bold" fill="#111" stroke="#111" stroke-width="0.5" font-size="15.8" font-style="italic">p</text>
<text transform="translate(202.60,282.60) scale(1.0,1)" x="-3.22" y="0" font-family="Liberation Sans, sans-serif" font-weight="bold" fill="#111" stroke="#111" stroke-width="0.5" font-size="11.6">0</text>
<text transform="translate(530.10,277.60) scale(0.84,1)" x="-4.40" y="0" font-family="Liberation Sans, sans-serif" font-weight="bold" fill="#111" stroke="#111" stroke-width="0.5" font-size="15.8" font-style="italic">p</text>
<text transform="translate(538.90,277.90) scale(1.0,1)" x="-2.29" y="0" font-family="Liberation Sans, sans-serif" font-weight="bold" fill="#111" stroke="#111" stroke-width="0.5" font-size="16.5" font-style="italic">/</text>
<text transform="translate(546.40,277.60) scale(0.84,1)" x="-4.40" y="0" font-family="Liberation Sans, sans-serif" font-weight="bold" fill="#111" stroke="#111" stroke-width="0.5" font-size="15.8" font-style="italic">p</text>
<text transform="translate(556.10,283.50) scale(1.0,1)" x="-3.22" y="0" font-family="Liberation Sans, sans-serif" font-weight="bold" fill="#111" stroke="#111" stroke-width="0.5" font-size="11.6">0</text>
<circle cx="67.4" cy="29.2" r="1.85" fill="#ff0000"/>
<circle cx="72.7" cy="29.2" r="1.6" fill="#fff" stroke="#ff9090" stroke-width="0.8"/>
<text x="75.2" y="32.2" font-family="Liberation Sans, sans-serif" font-weight="bold" fill="#222" font-size="8.5">:</text>
<text x="79.3" y="33.4" font-family="Liberation Sans, sans-serif" font-weight="bold" fill="#111" font-size="11.4" stroke="#111" stroke-width="0.12" textLength="13.2" lengthAdjust="spacingAndGlyphs">UC</text>
<rect x="65.8" y="43.5" width="3.5" height="3.5" fill="#0000ff"/>
<rect x="71.2" y="43.7" width="3.1" height="3.1" fill="#fff" stroke="#9090ff" stroke-width="0.7"/>
<text x="75.2" y="48.2" font-family="Liberation Sans, sans-serif" font-weight="bold" fill="#222" font-size="8.5">:</text>
<text x="79.3" y="49.4" font-family="Liberation Sans, sans-serif" font-weight="bold" fill="#111" font-size="11.4" stroke="#111" stroke-width="0.12" textLength="66.5" lengthAdjust="spacingAndGlyphs">UAC (1M HCl)</text>
<polygon points="68.6,58.2 71.1,62.7 66.1,62.7" fill="#009000"/>
<polygon points="75.2,58.4 77.5,62.5 72.9,62.5" fill="#fff" stroke="#70c070" stroke-width="0.7"/>
<text x="78.4" y="64.3" font-family="Liberation Sans, sans-serif" font-weight="bold" fill="#222" font-size="8.5">:</text>
<text x="81.9" y="65.5" font-family="Liberation Sans, sans-serif" font-weight="bold" fill="#111" font-size="11.4" stroke="#111" stroke-width="0.12" textLength="66.5" lengthAdjust="spacingAndGlyphs">UAC (2M HCl)</text>
<circle cx="67.8" cy="77.4" r="1.6" fill="#7a1ee6"/>
<polygon points="72.5,75.5 73.7,77.4 72.5,79.4 71.3,77.4" fill="#fff" stroke="#c8a8f0" stroke-width="0.7"/>
<text x="75.7" y="80.4" font-family="Liberation Sans, sans-serif" font-weight="bold" fill="#222" font-size="8.5">:</text>
<text x="82.3" y="81.6" font-family="Liberation Sans, sans-serif" font-weight="bold" fill="#111" font-size="11.4" stroke="#111" stroke-width="0.12" textLength="66.5" lengthAdjust="spacingAndGlyphs">UAC (3M HCl)</text>
<circle cx="576.9" cy="197.1" r="1.85" fill="#ff0000"/>
<circle cx="581.9" cy="197.1" r="1.6" fill="#fff" stroke="#ff9090" stroke-width="0.8"/>
<text x="584.7" y="200.1" font-family="Liberation Sans, sans-serif" font-weight="bold" fill="#222" font-size="8.5">:</text>
<text x="588.3" y="201.3" font-family="Liberation Sans, sans-serif" font-weight="bold" fill="#111" font-size="11.4" stroke="#111" stroke-width="0.12" textLength="70.4" lengthAdjust="spacingAndGlyphs">IUAC (1M HCl)</text>
<rect x="575.1" y="210.7" width="3.5" height="3.5" fill="#0000ff"/>
<rect x="580.4" y="210.8" width="3.1" height="3.1" fill="#fff" stroke="#9090ff" stroke-width="0.7"/>
<text x="584.7" y="215.4" font-family="Liberation Sans, sans-serif" font-weight="bold" fill="#222" font-size="8.5">:</text>
<text x="588.3" y="216.6" font-family="Liberation Sans, sans-serif" font-weight="bold" fill="#111" font-size="11.4" stroke="#111" stroke-width="0.12" textLength="70.4" lengthAdjust="spacingAndGlyphs">IUAC (2M HCl)</text>
<polygon points="578.3,224.7 580.8,229.2 575.8,229.2" fill="#009000"/>
<polygon points="584.9,224.9 587.2,229.0 582.6,229.0" fill="#fff" stroke="#70c070" stroke-width="0.7"/>
<text x="587.2" y="230.8" font-family="Liberation Sans, sans-serif" font-weight="bold" fill="#222" font-size="8.5">:</text>
<text x="590.0" y="232.0" font-family="Liberation Sans, sans-serif" font-weight="bold" fill="#111" font-size="11.4" stroke="#111" stroke-width="0.12" textLength="70.4" lengthAdjust="spacingAndGlyphs">IUAC (3M HCl)</text>
</svg></body></html>
